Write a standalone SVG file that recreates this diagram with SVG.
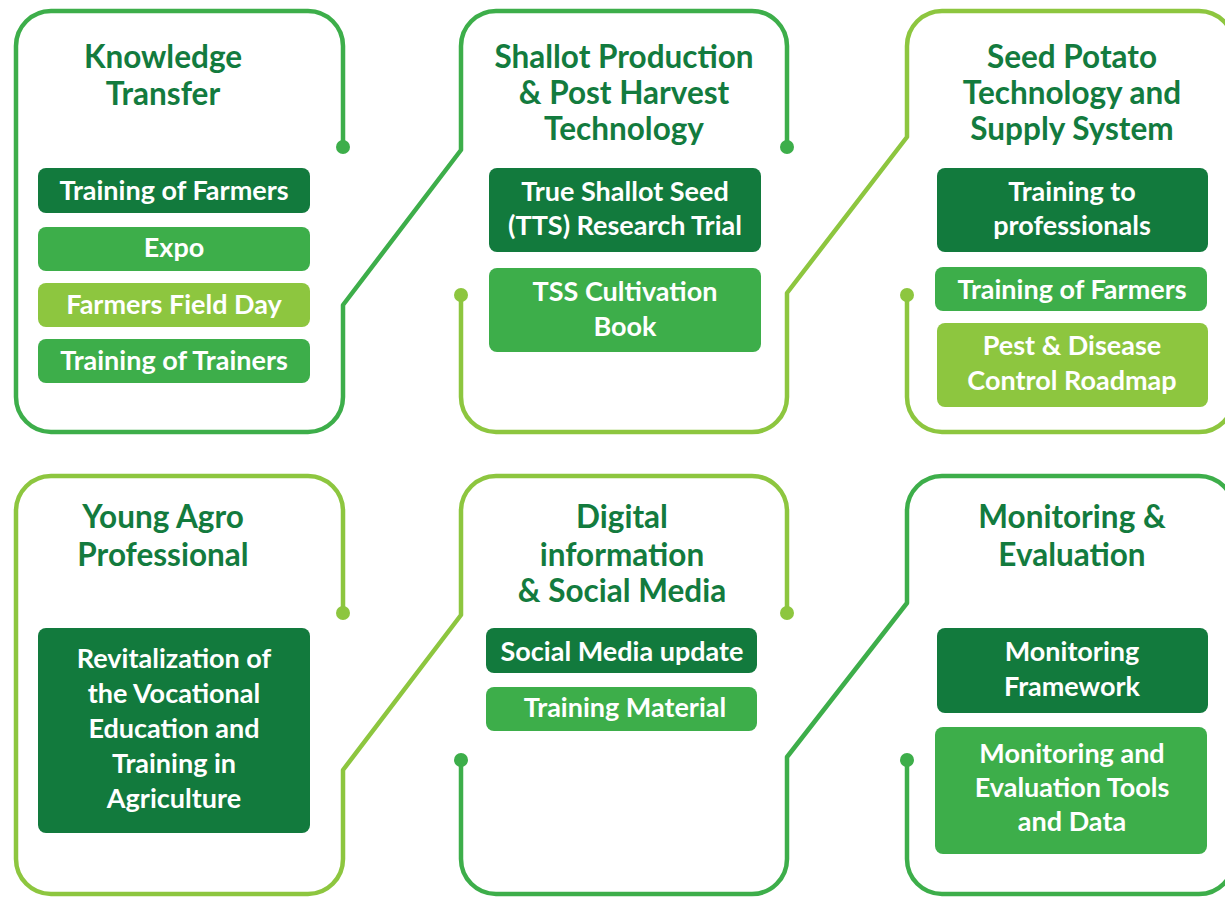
<svg xmlns="http://www.w3.org/2000/svg" width="1225" height="897" viewBox="0 0 1225 897">
<style>
.ln{fill:none;stroke-width:4.5;stroke-linejoin:round}
.med{stroke:#3DAE4A}
.lig{stroke:#8DC63F}
.dm{fill:#3DAE4A}
.dl{fill:#8DC63F}
.t{font-family:Lato,"Open Sans",sans-serif;font-weight:700;font-size:31.5px;fill:#137B3E;text-anchor:middle}
.b{font-family:Lato,"Open Sans",sans-serif;font-weight:700;font-size:27px;fill:#FFFFFF;text-anchor:middle}
.k1{fill:#127A3D}
.k2{fill:#3DAE4A}
.k3{fill:#8DC63F}
</style>
<rect width="1225" height="897" fill="#FFFFFF"/>
<g id="connectors">
<path class="ln med" d="M343 147V46A35 35 0 0 0 308 11H51A35 35 0 0 0 16 46V397A35 35 0 0 0 51 432H308A35 35 0 0 0 343 397V305L461 150V46A35 35 0 0 1 496 11H752A35 35 0 0 1 787 46V147"/>
<circle class="dm" cx="343" cy="147" r="7"/><circle class="dm" cx="787" cy="147" r="7"/>
<path class="ln lig" d="M461 295V397A35 35 0 0 0 496 432H752A35 35 0 0 0 787 397V293L907 137V46A35 35 0 0 1 942 11H1199A35 35 0 0 1 1234 46V150"/>
<circle class="dl" cx="461" cy="295" r="7"/>
<path class="ln lig" d="M907 295V397A35 35 0 0 0 942 432H1199A35 35 0 0 0 1234 397V300"/>
<circle class="dl" cx="907" cy="295" r="7"/>
<path class="ln lig" d="M343 613V511A35 35 0 0 0 308 476H51A35 35 0 0 0 16 511V859A35 35 0 0 0 51 894H308A35 35 0 0 0 343 859V770L461 615V511A35 35 0 0 1 496 476H752A35 35 0 0 1 787 511V613"/>
<circle class="dl" cx="343" cy="613" r="7"/><circle class="dl" cx="787" cy="613" r="7"/>
<path class="ln med" d="M461 760V859A35 35 0 0 0 496 894H752A35 35 0 0 0 787 859V757L907 603V511A35 35 0 0 1 942 476H1199A35 35 0 0 1 1234 511V600"/>
<circle class="dm" cx="461" cy="760" r="7"/>
<path class="ln med" d="M907 760V859A35 35 0 0 0 942 894H1199A35 35 0 0 0 1234 859V800"/>
<circle class="dm" cx="907" cy="760" r="7"/>
</g>
<g id="knowledge-transfer">
<text class="t" x="163" y="68">Knowledge</text>
<text class="t" x="163" y="105">Transfer</text>
<rect class="k1" x="38" y="168" width="272" height="45" rx="8"/>
<text class="b" x="174" y="200">Training of Farmers</text>
<rect class="k2" x="38" y="227" width="272" height="44" rx="8"/>
<text class="b" x="174" y="257">Expo</text>
<rect class="k3" x="38" y="283" width="272" height="44" rx="8"/>
<text class="b" x="174" y="314">Farmers Field Day</text>
<rect class="k2" x="38" y="339" width="272" height="44" rx="8"/>
<text class="b" x="174" y="370">Training of Trainers</text>
</g>
<g id="shallot">
<text class="t" x="624" y="68">Shallot Production</text>
<text class="t" x="624" y="104">&amp; Post Harvest</text>
<text class="t" x="624" y="140">Technology</text>
<rect class="k1" x="489" y="168" width="272" height="84" rx="8"/>
<text class="b" x="625" y="201">True Shallot Seed</text>
<text class="b" x="625" y="235">(TTS) Research Trial</text>
<rect class="k2" x="489" y="268" width="272" height="84" rx="8"/>
<text class="b" x="625" y="301">TSS Cultivation</text>
<text class="b" x="625" y="336">Book</text>
</g>
<g id="seed-potato">
<text class="t" x="1072" y="68">Seed Potato</text>
<text class="t" x="1072" y="104">Technology and</text>
<text class="t" x="1072" y="140">Supply System</text>
<rect class="k1" x="937" y="168" width="271" height="84" rx="8"/>
<text class="b" x="1072" y="201">Training to</text>
<text class="b" x="1072" y="235">professionals</text>
<rect class="k2" x="935" y="267" width="272" height="44" rx="8"/>
<text class="b" x="1072" y="299">Training of Farmers</text>
<rect class="k3" x="937" y="323" width="271" height="84" rx="8"/>
<text class="b" x="1072" y="355">Pest &amp; Disease</text>
<text class="b" x="1072" y="390">Control Roadmap</text>
</g>
<g id="young-agro">
<text class="t" x="163" y="528">Young Agro</text>
<text class="t" x="163" y="566">Professional</text>
<rect class="k1" x="38" y="628" width="272" height="205" rx="8"/>
<text class="b" x="174" y="668">Revitalization of</text>
<text class="b" x="174" y="703">the Vocational</text>
<text class="b" x="174" y="738">Education and</text>
<text class="b" x="174" y="773">Training in</text>
<text class="b" x="174" y="808">Agriculture</text>
</g>
<g id="digital">
<text class="t" x="622" y="528">Digital</text>
<text class="t" x="622" y="566">information</text>
<text class="t" x="622" y="602">&amp; Social Media</text>
<rect class="k1" x="486" y="628" width="271" height="45" rx="8"/>
<text class="b" x="622" y="661">Social Media update</text>
<rect class="k2" x="486" y="687" width="271" height="44" rx="8"/>
<text class="b" x="625" y="717">Training Material</text>
</g>
<g id="monitoring">
<text class="t" x="1072" y="528">Monitoring &amp;</text>
<text class="t" x="1072" y="566">Evaluation</text>
<rect class="k1" x="937" y="628" width="271" height="85" rx="8"/>
<text class="b" x="1072" y="661">Monitoring</text>
<text class="b" x="1072" y="696">Framework</text>
<rect class="k2" x="935" y="727" width="272" height="127" rx="8"/>
<text class="b" x="1072" y="763">Monitoring and</text>
<text class="b" x="1072" y="797">Evaluation Tools</text>
<text class="b" x="1072" y="831">and Data</text>
</g>
</svg>
